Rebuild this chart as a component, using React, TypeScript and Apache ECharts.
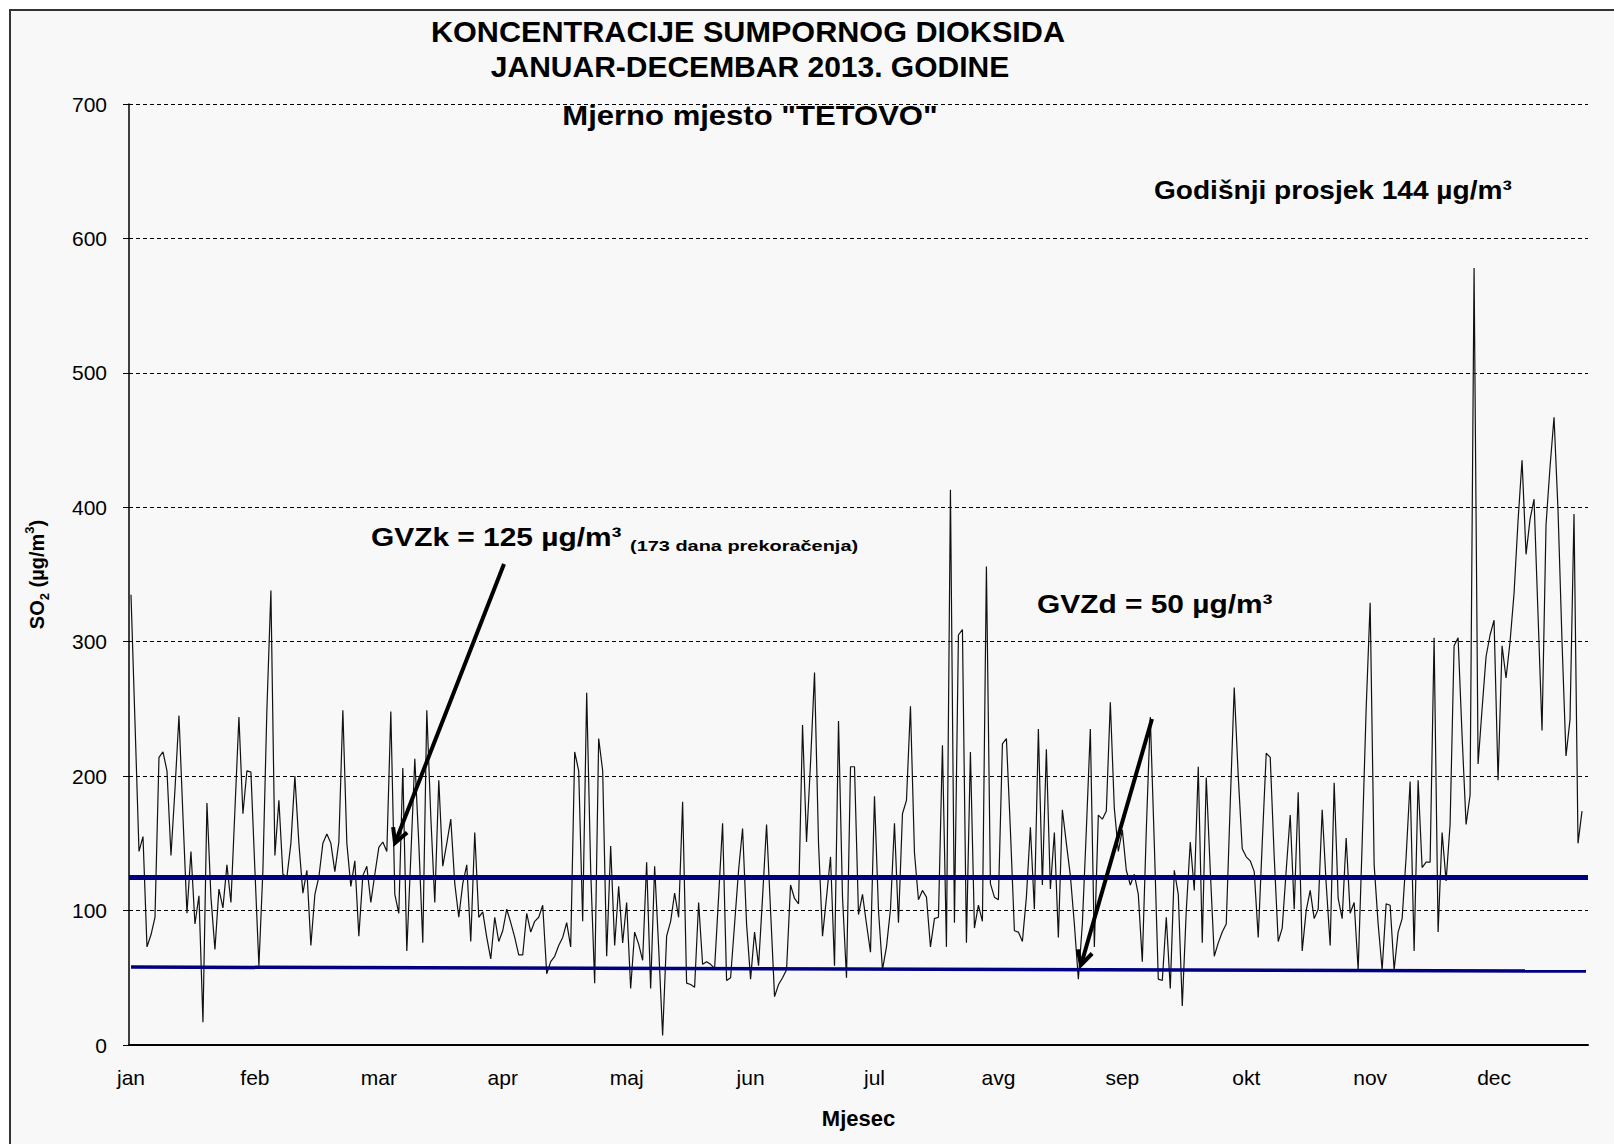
import React, { useEffect, useRef } from 'react';
import * as echarts from 'echarts';

const monthLabels = ['jan', 'feb', 'mar', 'apr', 'maj', 'jun', 'jul', 'avg', 'sep', 'okt', 'nov', 'dec'];

// Daily SO2 concentrations (µg/m³), 2013, per calendar month
const jan = [335, 240, 144, 155, 73, 82, 95, 214, 218, 204, 141, 190, 245, 170, 98, 144, 90, 111, 17, 180, 110, 71, 116, 102, 134, 106, 175, 244, 172, 204, 203];
const feb = [130, 59, 130, 250, 338, 141, 182, 127, 125, 150, 200, 150, 113, 130, 74, 112, 125, 150, 157, 150, 129, 151, 249, 150, 118, 137, 81, 126];
const mar = [133, 106, 127, 147, 151, 144, 248, 112, 98, 206, 70, 140, 213, 150, 76, 249, 170, 106, 197, 133, 150, 168, 120, 95, 120, 134, 77, 158, 95, 99, 80];
const apr = [64, 95, 77, 85, 101, 91, 80, 67, 67, 98, 84, 92, 95, 104, 53, 62, 66, 74, 80, 91, 73, 218, 204, 92, 262, 130, 46, 228, 204, 66];
const maj = [148, 74, 118, 76, 106, 42, 84, 75, 63, 136, 42, 133, 73, 7, 81, 92, 113, 95, 181, 46, 45, 43, 106, 60, 62, 60, 57, 110, 165, 48, 50];
const jun = [90, 130, 161, 90, 49, 84, 59, 110, 164, 100, 36, 45, 50, 56, 119, 109, 105, 238, 151, 210, 277, 150, 81, 110, 140, 59, 241, 110, 50, 207];
const jul = [207, 97, 112, 90, 69, 185, 100, 56, 73, 101, 165, 91, 172, 182, 252, 143, 108, 115, 110, 73, 94, 95, 223, 73, 413, 91, 305, 309, 76, 218, 87];
const avg = [104, 92, 356, 120, 110, 108, 224, 228, 160, 85, 84, 77, 110, 162, 101, 235, 119, 220, 116, 158, 80, 175, 150, 126, 90, 49, 90, 160, 235, 73, 171];
const sep = [168, 174, 255, 176, 144, 160, 130, 119, 127, 112, 62, 160, 244, 150, 49, 48, 95, 42, 130, 112, 29, 100, 151, 115, 207, 76, 199, 130, 66, 76];
const okt = [84, 90, 180, 266, 200, 146, 140, 137, 129, 80, 150, 217, 214, 140, 77, 87, 130, 171, 101, 188, 70, 100, 115, 94, 101, 175, 120, 74, 195, 109, 94];
const nov = [154, 98, 106, 56, 150, 250, 329, 134, 90, 56, 105, 104, 56, 84, 94, 140, 196, 70, 197, 132, 136, 136, 303, 84, 158, 122, 164, 297, 303, 230];
const dec = [164, 186, 578, 209, 250, 289, 305, 316, 197, 297, 273, 300, 336, 390, 435, 365, 391, 406, 320, 234, 387, 430, 467, 398, 300, 215, 242, 395, 150, 174, null];

const so2 = [...jan, ...feb, ...mar, ...apr, ...maj, ...jun, ...jul, ...avg, ...sep, ...okt, ...nov, ...dec];
const days = so2.map((_, i) => String(i + 1));

const gvzkLevel = 125;
const gvzdStart = 58;
const gvzdEnd = 55;

const FONT = '"Liberation Sans", Arial, sans-serif';

function arrow(x1: number, y1: number, x2: number, y2: number) {
  const dx = x2 - x1;
  const dy = y2 - y1;
  const len = Math.sqrt(dx * dx + dy * dy);
  const ux = dx / len;
  const uy = dy / len;
  const L = 16;
  const a = (28 * Math.PI) / 180;
  const cos = Math.cos(a);
  const sin = Math.sin(a);
  const b1 = [x2 - L * (ux * cos - uy * sin), y2 - L * (uy * cos + ux * sin)];
  const b2 = [x2 - L * (ux * cos + uy * sin), y2 - L * (uy * cos - ux * sin)];
  return [
    { type: 'line', shape: { x1, y1, x2, y2 }, style: { stroke: '#000', lineWidth: 4 }, z: 100 },
    { type: 'polyline', shape: { points: [b1, [x2, y2], b2] }, style: { stroke: '#000', lineWidth: 4, fill: null }, z: 100 },
  ];
}

function label(text: string, x: number, y: number, size: number, align: string = 'left', scaleX = 1) {
  return {
    type: 'text',
    x,
    y,
    scaleX,
    z: 100,
    style: {
      text,
      font: `bold ${size}px ${FONT}`,
      fill: '#000',
      textAlign: align,
      align,
      textVerticalAlign: 'middle',
      verticalAlign: 'middle',
    },
  };
}

export default function App() {
  const ref = useRef<HTMLDivElement>(null);
  useEffect(() => {
    const chart = echarts.init(ref.current!, null, { renderer: 'svg' });
    const option: any = {
      animation: false,
      backgroundColor: '#ffffff',
      grid: { left: 129, right: 26, top: 104, bottom: 99, containLabel: false },
      xAxis: [
        {
          type: 'category',
          data: days,
          boundaryGap: true,
          axisLine: { lineStyle: { color: '#000', width: 2 } },
          axisTick: { interval: 30, length: 7, lineStyle: { color: '#000', width: 1 } },
          axisLabel: {
            interval: 30,
            formatter: (_v: string, i: number) => monthLabels[Math.round(i / 31)] ?? '',
            fontSize: 21,
            fontFamily: FONT,
            color: '#000',
            margin: 22,
          },
          splitLine: { show: false },
          name: 'Mjesec',
          nameLocation: 'middle',
          nameGap: 62,
          nameTextStyle: { fontSize: 22, fontWeight: 'bold', fontFamily: FONT, color: '#000' },
        },
        {
          type: 'category',
          data: days,
          boundaryGap: true,
          position: 'bottom',
          axisLine: { show: false },
          axisTick: { interval: 30, inside: true, length: 7, lineStyle: { color: '#000', width: 1 } },
          axisLabel: { show: false },
          splitLine: { show: false },
        },
      ],
      yAxis: {
        type: 'value',
        min: 0,
        max: 700,
        interval: 100,
        axisLine: { show: true, lineStyle: { color: '#000', width: 1.5 } },
        axisTick: { show: true, length: 6, lineStyle: { color: '#000' } },
        axisLabel: { fontSize: 21, fontFamily: FONT, color: '#000', margin: 22 },
        splitLine: { show: true, lineStyle: { color: '#000', width: 1, type: [4, 3] } },
        name: '{a|SO}{s|2}{a| (µg/m}{p|3}{a|)}',
        nameLocation: 'middle',
        nameRotate: 90,
        nameGap: 78,
        nameTextStyle: {
          rich: {
            a: { fontSize: 20, fontWeight: 'bold', fontFamily: FONT, color: '#000', lineHeight: 28 },
            s: { fontSize: 13, fontWeight: 'bold', fontFamily: FONT, color: '#000', lineHeight: 28, verticalAlign: 'bottom' },
            p: { fontSize: 13, fontWeight: 'bold', fontFamily: FONT, color: '#000', lineHeight: 28, verticalAlign: 'top' },
          },
        },
      },
      series: [
        {
          type: 'line',
          data: so2,
          xAxisIndex: 0,
          symbol: 'none',
          lineStyle: { color: '#111', width: 1.2 },
          markLine: {
            silent: true,
            symbol: 'none',
            label: { show: false },
            data: [
              { yAxis: gvzkLevel, lineStyle: { color: '#000080', width: 5, type: 'solid' } },
              [
                { coord: [days[0], gvzdStart], lineStyle: { color: '#000080', width: 3.5, type: 'solid' } },
                { coord: [days[days.length - 1], gvzdEnd] },
              ],
            ],
          },
        },
      ],
      graphic: [
        {
          type: 'rect',
          z: -10,
          shape: { x: 10, y: 10, width: 1650, height: 1200 },
          style: { fill: '#f8f8f8', stroke: '#333', lineWidth: 2 },
        },
        label('KONCENTRACIJE SUMPORNOG DIOKSIDA', 748, 32, 30, 'center', 1.02),
        label('JANUAR-DECEMBAR 2013. GODINE', 750, 66, 30, 'center', 1.0),
        label('Mjerno mjesto "TETOVO"', 750, 116, 27, 'center', 1.15),
        label('Godišnji prosjek 144 µg/m³', 1154, 190, 26, 'left', 1.08),
        label('GVZk = 125 µg/m³', 371, 537, 26, 'left', 1.15),
        label('(173 dana prekoračenja)', 630, 546, 15, 'left', 1.33),
        label('GVZd = 50 µg/m³', 1037, 604, 26, 'left', 1.15),
        ...arrow(504, 564, 395, 843),
        ...arrow(1152, 719, 1081, 965),
      ],
    };
    chart.setOption(option);
    return () => chart.dispose();
  }, []);
  return <div ref={ref} style={{ position: 'absolute', left: 0, top: 0, width: 1614, height: 1144 }} />;
}
